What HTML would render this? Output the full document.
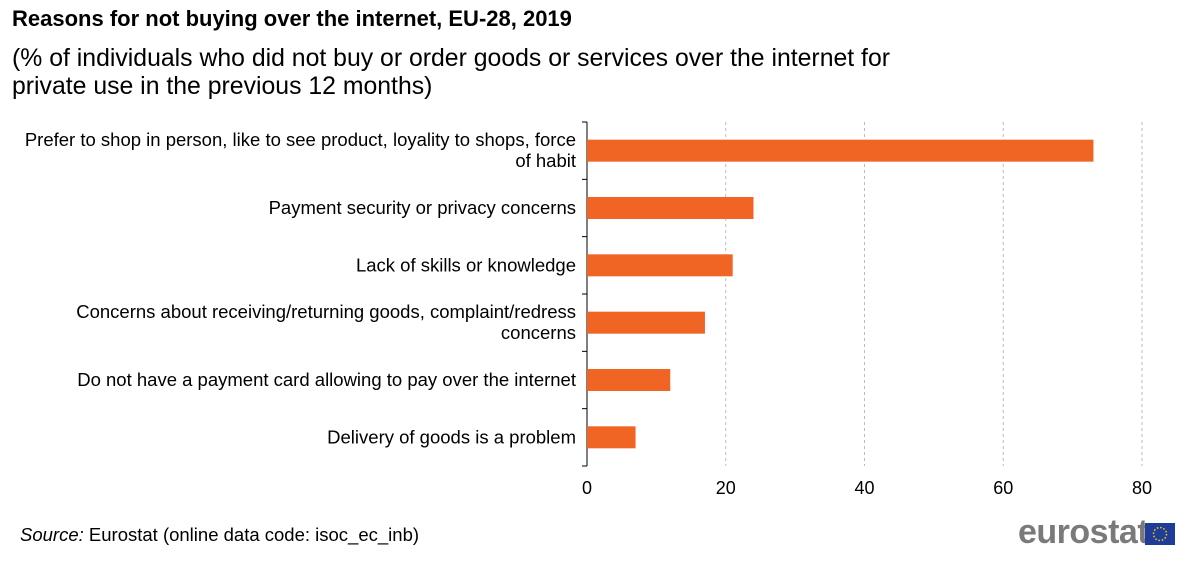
<!DOCTYPE html>
<html><head><meta charset="utf-8"><style>
body{margin:0;width:1200px;height:564px;background:#fff;font-family:"Liberation Sans",sans-serif;overflow:hidden;position:relative}
.t{position:absolute;color:#000}
</style></head><body>
<div class="t" style="left:12px;top:6px;font-size:22px;font-weight:bold">Reasons for not buying over the internet, EU-28, 2019</div>
<div class="t" style="left:12px;top:45px;font-size:24.8px;line-height:28px;width:900px">(% of individuals who did not buy or order goods or services over the internet for private use in the previous 12 months)</div>
<svg id="chart" width="1200" height="564" style="position:absolute;left:0;top:0"></svg>
<div class="t" style="left:20px;top:524px;font-size:18.5px"><i>Source:</i> Eurostat (online data code: isoc_ec_inb)</div>
<div class="t" style="left:1018px;top:513px;font-size:34px;font-weight:bold;color:#7a7a7a;letter-spacing:-0.5px">eurostat</div>
<svg width="30" height="22" style="position:absolute;left:1145px;top:523px"><rect width="30" height="22" fill="#1f3c99"/><circle cx="15" cy="11" r="6.5" fill="none" stroke="#f3d400" stroke-width="1.5" stroke-dasharray="1.5 1.9"/></svg>
<script>
const categories=[["Prefer to shop in person, like to see product, loyality to shops, force","of habit"],["Payment security or privacy concerns"],["Lack of skills or knowledge"],["Concerns about receiving/returning goods, complaint/redress","concerns"],["Do not have a payment card allowing to pay over the internet"],["Delivery of goods is a problem"]];
const values=[73,24,21,17,12,7];
const ticks=[0,20,40,60,80];
(function(){
const svg=document.getElementById('chart');const NS='http://www.w3.org/2000/svg';
const x0=587,x1=1142,tmax=80,yTop=122,yBot=466;
const xs=v=>x0+(x1-x0)*v/tmax;const band=(yBot-yTop)/categories.length;
function mk(t,a,p){const e=document.createElementNS(NS,t);for(const k in a)e.setAttribute(k,a[k]);(p||svg).appendChild(e);return e;}
ticks.forEach(v=>{if(v>0){const g=mk('line',{x1:xs(v),x2:xs(v),y1:yTop,y2:yBot,stroke:'#bbb','stroke-dasharray':'3 3'});

}
const t=mk('text',{x:xs(v),y:494,'text-anchor':'middle','font-size':18,'font-family':'Liberation Sans, sans-serif'});t.textContent=v;

});
const ax=mk('line',{x1:x0,x2:x0,y1:yTop,y2:yBot,stroke:'#000'});


for(let i=0;i<=categories.length;i++){const tk=mk('line',{x1:x0-5,x2:x0,y1:yTop+i*band,y2:yTop+i*band,stroke:'#000'});

}
values.forEach((v,i)=>{const cy=yTop+band*(i+0.5);
const b=mk('rect',{x:x0,y:cy-11,width:xs(v)-x0,height:22,fill:'#f06424'});


const lines=categories[i];const t=mk('text',{x:576,'text-anchor':'end','font-size':18.5,'font-family':'Liberation Sans, sans-serif'});


lines.forEach((l,j)=>{const ts=mk('tspan',{x:576,y:cy+6+(j-(lines.length-1)/2)*21},t);ts.textContent=l;});});
})();
</script>
</body></html>
